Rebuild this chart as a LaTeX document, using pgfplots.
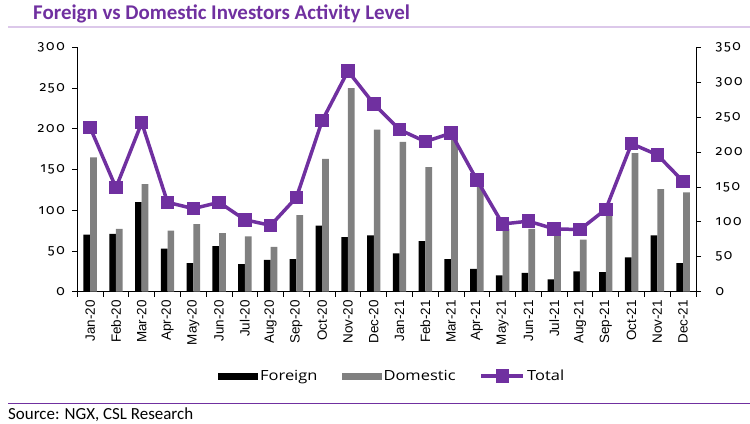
\documentclass[border=0pt]{standalone}
\usepackage{fontspec}
\usepackage{pgfplots}
\usepackage{pgfplotstable}
\pgfplotsset{compat=1.18}
\setmainfont{Carlito}
\newfontfamily\titlefont{Carlito}
\newfontfamily\xfont{Liberation Sans}
\newfontfamily\yfont[Numbers=OldStyle,LetterSpace=12]{Fira Sans}
\newfontfamily\legfont[FakeStretch=1.18]{Open Sans}
\definecolor{cslpurple}{HTML}{7030A0}
\definecolor{lav}{HTML}{DCC8EA}
\definecolor{dgray}{HTML}{808080}

\pgfplotsset{
 barleg/.style={legend image code/.code={\fill[##1] (0bp,-3.5bp) rectangle (40bp,3.5bp);}},
 lineleg/.style={legend image code/.code={\draw[mark repeat=2,mark phase=2,##1] plot coordinates {(0bp,0bp) (21bp,0bp) (42bp,0bp)};}},
}

\pgfplotstableread{
x foreign domestic total
0 70 165 235
1 71 77 149
2 110 132 242
3 53 75 128
4 35 83 119
5 56 72 128
6 34 68 103
7 39 55 95
8 40 94 135
9 81 163 245
10 67 250 316
11 69 199 269
12 47 184 232
13 62 153 215
14 40 188 227
15 28 131 160
16 20 77 97
17 23 77 101
18 15 75 90
19 25 64 89
20 24 93 118
21 42 170 212
22 69 126 196
23 35 122 158
}\datatable

\begin{document}
\begin{tikzpicture}
\begin{axis}[
 at={(77.3bp,-291.7bp)}, anchor=south west, scale only axis,
 width=618.7bp, height=244.4bp,
 xmin=-0.5, xmax=23.5, ymin=0, ymax=300,
 ybar=0pt, bar width=6.7bp,
 axis x line*=bottom, axis y line*=left,
 axis line style={-, line width=0.9bp, black},
 xtick={-0.5,0.5,...,23.5}, x tick label as interval,
 xticklabels={Jan-20,Feb-20,Mar-20,Apr-20,May-20,Jun-20,Jul-20,Aug-20,Sep-20,Oct-20,Nov-20,Dec-20,Jan-21,Feb-21,Mar-21,Apr-21,May-21,Jun-21,Jul-21,Aug-21,Sep-21,Oct-21,Nov-21,Dec-21},
 ytick={0,50,...,300},
 tick align=outside, major tick length=5bp,
 tick style={black, line width=0.9bp},
 xticklabel style={rotate=90, anchor=east, font=\xfont\fontsize{13.5}{14}\selectfont},
 yticklabel style={font=\yfont\fontsize{14}{16}\selectfont, xshift=-4bp},
 /pgf/number format/assume math mode=true,
]
\addplot[fill=black, draw=none] table[x=x,y=foreign]{\datatable};
\addplot[fill=dgray, draw=none] table[x=x,y=domestic]{\datatable};
\end{axis}
\begin{axis}[
 at={(77.3bp,-291.7bp)}, anchor=south west, scale only axis,
 width=618.7bp, height=244.4bp,
 xmin=-0.5, xmax=23.5, ymin=0, ymax=350,
 axis x line=none, axis y line*=right,
 axis line style={-, line width=0.9bp, black},
 ytick={0,50,...,350},
 tick align=outside, major tick length=5bp,
 tick style={black, line width=0.9bp},
 yticklabel style={font=\yfont\fontsize{14}{16}\selectfont, xshift=11bp},
 /pgf/number format/assume math mode=true,
 legend columns=3,
 legend style={at={(0.2274,-0.345)}, anchor=west, draw=none, fill=none,
   inner sep=0pt, font=\legfont\fontsize{14}{16}\selectfont,
   nodes={inner xsep=2bp},
   /tikz/every even column/.append style={column sep=22bp}},
]
\addlegendimage{barleg, fill=black, draw=none}\addlegendentry{Foreign}
\addlegendimage{barleg, fill=dgray, draw=none}\addlegendentry{Domestic}
\addplot[lineleg, cslpurple, line width=3.5bp, mark=square*, mark size=5bp, mark options={solid}] table[x=x,y=total]{\datatable};
\addlegendentry{Total}
\end{axis}
\node[anchor=base west, inner sep=0, text=cslpurple, font=\titlefont\bfseries\fontsize{21}{24}\selectfont] at (33bp,-19.5bp) {Foreign vs Domestic Investors Activity Level};
\draw[lav, line width=2bp] (8bp,-26.7bp) -- (750bp,-26.7bp);
\draw[cslpurple, line width=1.5bp] (8bp,-403.3bp) -- (750bp,-403.3bp);
\node[anchor=base west, inner sep=0, font=\fontsize{17}{20}\selectfont] at (8bp,-419bp) {Source: NGX, CSL Research};
\pgfresetboundingbox
\path (0,0) rectangle (750bp,-424bp);
\end{tikzpicture}
\end{document}
